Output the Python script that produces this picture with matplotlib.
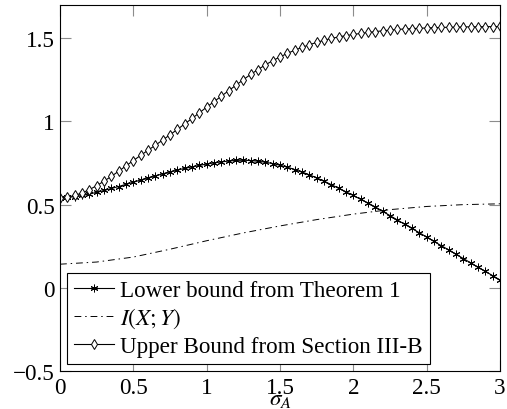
import numpy as np
import matplotlib
matplotlib.use("Agg")
import matplotlib.pyplot as plt
from matplotlib.ticker import FuncFormatter

plt.rcParams['font.family'] = ['Liberation Serif', 'DejaVu Serif']
plt.rcParams['mathtext.fontset'] = 'stix'
plt.rcParams['font.size'] = 16.7

# sigma_A grid used for both bounds (step 0.05)
sigma = np.round(np.arange(0, 3.0001, 0.05), 2)

lower_bound = [
    0.540, 0.543, 0.548, 0.555, 0.564, 0.574, 0.585, 0.597, 0.609, 0.622,
    0.635, 0.648, 0.661, 0.673, 0.685, 0.697, 0.708, 0.718, 0.727, 0.736,
    0.744, 0.751, 0.757, 0.762, 0.766, 0.767, 0.765, 0.761, 0.755, 0.747,
    0.737, 0.725, 0.711, 0.696, 0.679, 0.661, 0.641, 0.620, 0.598, 0.577,
    0.555, 0.532, 0.509, 0.486, 0.460, 0.434, 0.408, 0.382, 0.357, 0.331,
    0.305, 0.279, 0.253, 0.228, 0.202, 0.176, 0.150, 0.124, 0.099, 0.073,
    0.047,
]

upper_bound = [
    0.540, 0.545, 0.555, 0.570, 0.590, 0.614, 0.641, 0.670, 0.701, 0.733,
    0.765, 0.796, 0.827, 0.857, 0.888, 0.920, 0.952, 0.985, 1.018, 1.052,
    1.086, 1.119, 1.152, 1.185, 1.218, 1.251, 1.283, 1.312, 1.340, 1.365,
    1.388, 1.409, 1.428, 1.445, 1.461, 1.475, 1.488, 1.499, 1.508, 1.516,
    1.523, 1.529, 1.535, 1.540, 1.545, 1.549, 1.553, 1.556, 1.558, 1.560,
    1.562, 1.564, 1.565, 1.566, 1.567, 1.568, 1.569, 1.569, 1.570, 1.570,
    1.571,
]

# mutual information, coarser grid
sigma_mi = [0, 0.25, 0.5, 0.75, 1.0, 1.25, 1.5, 1.75, 2.0, 2.25, 2.5, 2.75, 3.0]
mutual_info = [0.142, 0.155, 0.185, 0.232, 0.283, 0.330, 0.372, 0.410,
               0.443, 0.470, 0.489, 0.500, 0.505]

fig = plt.figure(figsize=(5.07, 4.10), dpi=100)
ax = fig.add_axes([60 / 507, 1 - 372 / 410, 440 / 507, 366 / 410])

ax.plot(sigma, lower_bound, color='black', lw=0.8, marker=(6, 2, 0),
        markersize=5.5, markeredgewidth=0.7, label='Lower bound from Theorem 1')
ax.plot(sigma_mi, mutual_info, color='black', lw=0.7,
        linestyle=(0, (7, 4, 1.5, 4)), label='$I(X;Y)$')
ax.plot(sigma, upper_bound, color='black', lw=0.8, marker='d',
        markersize=5.5, markerfacecolor='white', markeredgewidth=0.7,
        label='Upper Bound from Section III-B')

ax.set_xlim(0, 3)
ax.set_ylim(-0.5, 1.7)
ax.set_xticks([0, 0.5, 1, 1.5, 2, 2.5, 3])
ax.set_yticks([-0.5, 0, 0.5, 1, 1.5])
fmt = FuncFormatter(lambda v, p: ('%g' % v).replace('-', '\u2212'))
ax.xaxis.set_major_formatter(fmt)
ax.yaxis.set_major_formatter(fmt)
ax.tick_params(direction='in', length=8, width=0.8, color='0.55',
               top=True, right=True, pad=4)
for s in ax.spines.values():
    s.set_linewidth(0.8)

ax.set_xlabel(r'$\sigma_A$', labelpad=-7)

leg = ax.legend(loc='lower left', bbox_to_anchor=(0.015, 0.02), fancybox=False,
                edgecolor='black', framealpha=1, handlelength=1.75,
                handletextpad=0.25, borderpad=0.3, labelspacing=0.22,
                borderaxespad=0)
leg.get_frame().set_linewidth(0.8)

fig.savefig('out.png', dpi=100)
